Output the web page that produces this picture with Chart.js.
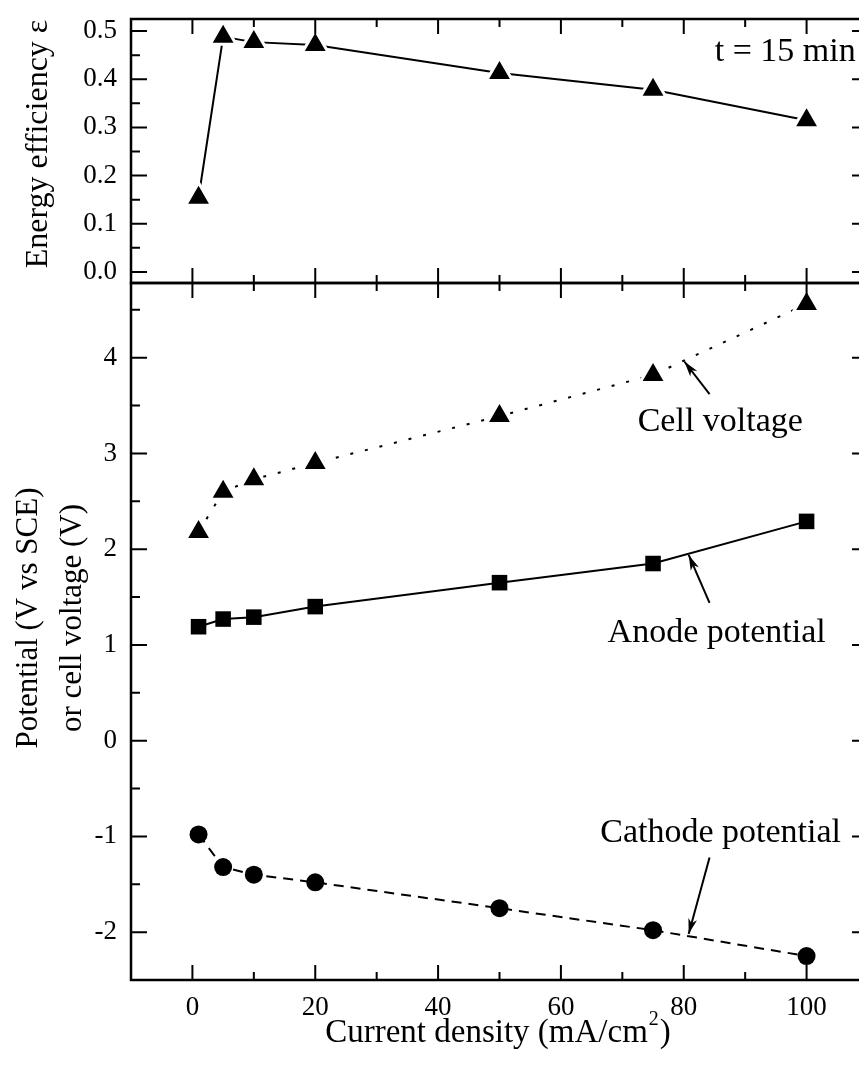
<!DOCTYPE html>
<html>
<head>
<meta charset="utf-8">
<script src="https://cdn.jsdelivr.net/npm/chart.js@4.4.0/dist/chart.umd.min.js"></script>
<style>
html, body { margin: 0; padding: 0; background: #fff; overflow: hidden; }
#wrap { position: relative; width: 859px; height: 1065px; overflow: hidden; }
canvas { position: absolute; left: 0; top: 0; }
</style>
</head>
<body>
<div id="wrap">
  <canvas id="bottomChart" width="880" height="1065"></canvas>
  <canvas id="topChart" width="880" height="300"></canvas>
</div>
<script>
// data
const currentDensity = [1, 5, 10, 20, 50, 75, 100];
const energyEfficiency = [0.154, 0.488, 0.477, 0.471, 0.413, 0.378, 0.315];
const cellVoltage = [2.18, 2.60, 2.73, 2.90, 3.39, 3.82, 4.56];
const anodePotential = [1.19, 1.27, 1.29, 1.40, 1.65, 1.85, 2.29];
const cathodePotential = [-0.98, -1.32, -1.40, -1.48, -1.75, -1.98, -2.25];

const xTicks = [0, 20, 40, 60, 80, 100];
const effTicks = [0, 0.1, 0.2, 0.3, 0.4, 0.5];
const potTicks = [-2, -1, 0, 1, 2, 3, 4];

const xRange = [-10, 110];
const effRange = [-0.023, 0.525];
const potRange = [-2.5, 4.78];

const SERIF = "'Liberation Serif', 'Times New Roman', serif";
Chart.defaults.font.family = SERIF;
Chart.defaults.font.size = 27;
Chart.defaults.color = '#000';

function pts(ys) {
  return currentDensity.map((x, i) => ({x: x, y: ys[i]}));
}

function ticksAt(min, max, step) {
  const out = [];
  let v = Math.ceil(min / step - 1e-9) * step;
  for (; v <= max + 1e-9; v += step) out.push(v);
  return out;
}
function isMajor(v, major) {
  const r = v / major;
  return Math.abs(r - Math.round(r)) < 1e-6;
}
function fixTicks(list) {
  return function(scale) { scale.ticks = list.map(v => ({value: v})); };
}
function fixWidth(w) {
  return function(scale) {
    scale.width = w;
    scale.paddingTop = scale.paddingBottom = scale.paddingLeft = scale.paddingRight = 0;
  };
}
function fixHeight(h) {
  return function(scale) {
    scale.height = h;
    scale.paddingTop = scale.paddingBottom = scale.paddingLeft = scale.paddingRight = 0;
  };
}

// frame with inward ticks on all four sides
const framePlugin = {
  id: 'frame',
  afterDraw(chart, args, o) {
    const {ctx, chartArea: a, scales: {x, y}} = chart;
    ctx.save();
    ctx.strokeStyle = '#000';
    ctx.lineWidth = 2;
    ctx.beginPath();
    ticksAt(x.min, x.max, o.xMinor).forEach(v => {
      const px = x.getPixelForValue(v);
      const len = isMajor(v, o.xMajor) ? 15 : 8;
      ctx.moveTo(px, a.top); ctx.lineTo(px, a.top + len);
      ctx.moveTo(px, a.bottom); ctx.lineTo(px, a.bottom - len);
    });
    ticksAt(y.min, y.max, o.yMinor).forEach(v => {
      const py = y.getPixelForValue(v);
      const len = isMajor(v, o.yMajor) ? 16 : 9;
      ctx.moveTo(a.left, py); ctx.lineTo(a.left + len, py);
      ctx.moveTo(a.right, py); ctx.lineTo(a.right - len, py);
    });
    ctx.stroke();
    ctx.lineWidth = 2.5;
    ctx.strokeRect(a.left, a.top, a.right - a.left, a.bottom - a.top);
    ctx.restore();
  }
};

function arrow(ctx, x1, y1, x2, y2) {
  ctx.lineWidth = 2;
  ctx.beginPath(); ctx.moveTo(x1, y1); ctx.lineTo(x2, y2); ctx.stroke();
  const ang = Math.atan2(y2 - y1, x2 - x1);
  const L = 16, W = 0.28;
  ctx.beginPath();
  ctx.moveTo(x2, y2);
  ctx.lineTo(x2 - L * Math.cos(ang - W), y2 - L * Math.sin(ang - W));
  ctx.lineTo(x2 - L * 0.7 * Math.cos(ang), y2 - L * 0.7 * Math.sin(ang));
  ctx.lineTo(x2 - L * Math.cos(ang + W), y2 - L * Math.sin(ang + W));
  ctx.closePath();
  ctx.fill();
}

function vtext(ctx, text, x, y, size) {
  ctx.save();
  ctx.translate(x, y);
  ctx.rotate(-Math.PI / 2);
  ctx.font = size + 'px ' + SERIF;
  ctx.textAlign = 'center';
  ctx.textBaseline = 'alphabetic';
  ctx.fillText(text, 0, 0);
  ctx.restore();
}

const topLabels = {
  id: 'topLabels',
  afterDraw(chart) {
    const {ctx, scales: {x, y}} = chart;
    ctx.save();
    ctx.fillStyle = '#000';
    vtext(ctx, 'Energy efficiency ε', 47, 144, 32);
    ctx.font = '34px ' + SERIF;
    ctx.textAlign = 'right';
    ctx.fillText('t = 15 min', x.getPixelForValue(108), y.getPixelForValue(0.438));
    ctx.restore();
  }
};

const bottomLabels = {
  id: 'bottomLabels',
  afterDraw(chart) {
    const {ctx, scales: {x, y}} = chart;
    const X = v => x.getPixelForValue(v), Y = v => y.getPixelForValue(v);
    ctx.save();
    ctx.fillStyle = '#000';
    ctx.strokeStyle = '#000';
    vtext(ctx, 'Potential (V vs SCE)', 37, 618, 31);
    vtext(ctx, 'or cell voltage (V)', 81, 618, 31);

    // x axis title with superscript
    ctx.font = '33px ' + SERIF;
    ctx.textBaseline = 'alphabetic';
    ctx.textAlign = 'left';
    const t1 = 'Current density (mA/cm', t3 = ')';
    const w1 = ctx.measureText(t1).width;
    ctx.font = '20px ' + SERIF;
    const w2 = ctx.measureText('2').width;
    ctx.font = '33px ' + SERIF;
    const w3 = ctx.measureText(t3).width;
    let sx = 497 - (w1 + w2 + w3) / 2;
    ctx.fillText(t1, sx, 1042);
    ctx.font = '20px ' + SERIF;
    ctx.fillText('2', sx + w1 + 1, 1025);
    ctx.font = '33px ' + SERIF;
    ctx.fillText(t3, sx + w1 + w2 + 2, 1042);

    // annotations
    ctx.font = '34px ' + SERIF;
    ctx.fillText('Cell voltage', X(72.5), Y(3.23));
    ctx.fillText('Anode potential', X(67.6), Y(1.03));
    ctx.fillText('Cathode potential', X(66.4), Y(-1.06));
    arrow(ctx, X(84.2), Y(3.62), X(80.1), Y(3.96));
    arrow(ctx, X(84.2), Y(1.44), X(80.8), Y(1.94));
    arrow(ctx, X(84.2), Y(-1.22), X(80.8), Y(-2.02));
    ctx.restore();
  }
};

const triangleStyle = {
  pointStyle: 'triangle', pointRadius: 15, pointBackgroundColor: '#000',
  pointBorderColor: '#fff', pointBorderWidth: 3
};

new Chart(document.getElementById('topChart'), {
  type: 'scatter',
  data: {
    datasets: [Object.assign({
      data: pts(energyEfficiency), showLine: true,
      borderColor: '#000', borderWidth: 2, tension: 0
    }, triangleStyle)]
  },
  options: {
    responsive: false, animation: false, events: [],
    layout: {padding: {left: 0, top: 19, right: 12, bottom: 17}, autoPadding: false},
    plugins: {legend: {display: false}, tooltip: {enabled: false},
      frame: {xMinor: 10, xMajor: 20, yMinor: 0.05, yMajor: 0.1}},
    scales: {
      x: {type: 'linear', display: false, min: xRange[0], max: xRange[1],
        afterFit: fixHeight(0)},
      y: {
        type: 'linear', min: effRange[0], max: effRange[1],
        grid: {display: false, drawTicks: false}, border: {display: false},
        ticks: {padding: 14, callback: v => v.toFixed(1)},
        afterBuildTicks: fixTicks(effTicks),
        afterFit: fixWidth(131)
      }
    }
  },
  plugins: [framePlugin, topLabels]
});

new Chart(document.getElementById('bottomChart'), {
  type: 'scatter',
  data: {
    datasets: [
      Object.assign({
        label: 'Cell voltage', data: pts(cellVoltage), showLine: true,
        borderColor: '#000', borderWidth: 2, borderDash: [3, 12], tension: 0
      }, triangleStyle),
      {
        label: 'Anode potential', data: pts(anodePotential), showLine: true,
        borderColor: '#000', borderWidth: 2, tension: 0,
        pointStyle: 'rect', pointRadius: 11, pointBackgroundColor: '#000',
        pointBorderColor: '#000', pointBorderWidth: 0
      },
      {
        label: 'Cathode potential', data: pts(cathodePotential), showLine: true,
        borderColor: '#000', borderWidth: 2, borderDash: [10, 7], tension: 0,
        pointStyle: 'circle', pointRadius: 9, pointBackgroundColor: '#000',
        pointBorderColor: '#000', pointBorderWidth: 0
      }
    ]
  },
  options: {
    responsive: false, animation: false, events: [],
    layout: {padding: {left: 0, top: 283, right: 12, bottom: 0}, autoPadding: false},
    plugins: {legend: {display: false}, tooltip: {enabled: false},
      frame: {xMinor: 10, xMajor: 20, yMinor: 0.5, yMajor: 1}},
    scales: {
      x: {
        type: 'linear', min: xRange[0], max: xRange[1],
        grid: {display: false, drawTicks: false}, border: {display: false},
        ticks: {padding: 12},
        afterBuildTicks: fixTicks(xTicks),
        afterFit: fixHeight(85)
      },
      y: {
        type: 'linear', min: potRange[0], max: potRange[1],
        grid: {display: false, drawTicks: false}, border: {display: false},
        ticks: {padding: 14},
        afterBuildTicks: fixTicks(potTicks),
        afterFit: fixWidth(131)
      }
    }
  },
  plugins: [framePlugin, bottomLabels]
});
</script>
</body>
</html>
